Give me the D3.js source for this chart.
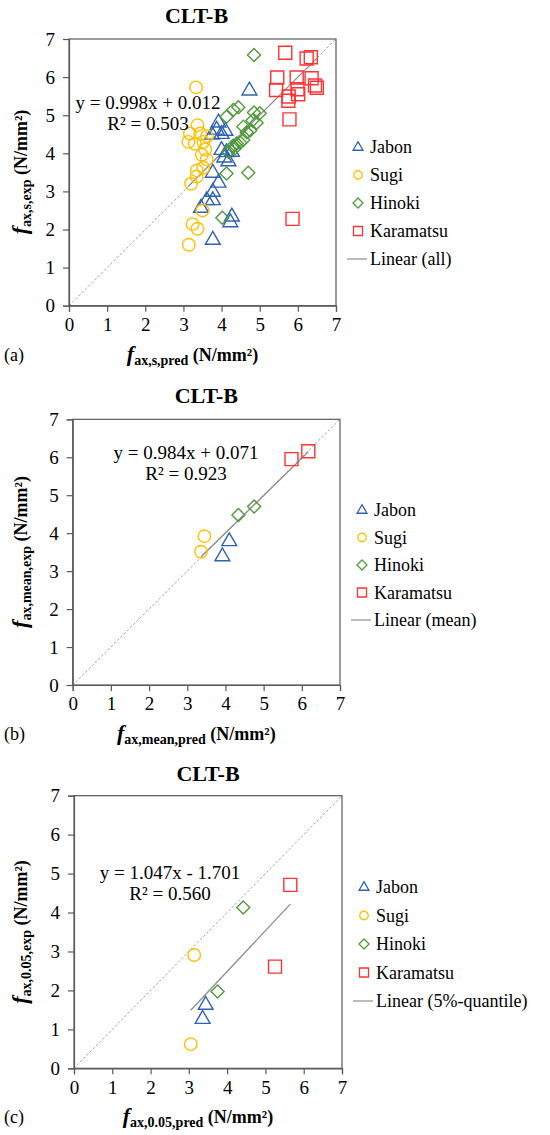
<!DOCTYPE html>
<html><head><meta charset="utf-8">
<script src="https://cdn.jsdelivr.net/npm/d3@7"></script>
<style>
body{margin:0;background:#fff}
text{font-family:"Liberation Serif","Times New Roman",serif;fill:#000}
</style></head>
<body><svg id="chart" width="550" height="1135"></svg>
<script>
const species = ["Jabon","Sugi","Hinoki","Karamatsu"];
const speciesColors = ["#2F62B3","#FFC000","#4F9A3A","#FF3333"];
const tickValues = [0,1,2,3,4,5,6,7];
const panelTitles = ["CLT-B","CLT-B","CLT-B"];
const panelTags = ["(a)","(b)","(c)"];
const xSubs = ["ax,s,pred","ax,mean,pred","ax,0.05,pred"];
const ySubs = ["ax,s,exp","ax,mean,exp","ax,0.05,exp"];
const trendNames = ["Linear (all)","Linear (mean)","Linear (5%-quantile)"];
const equations = ["y = 0.998x + 0.012","y = 0.984x + 0.071","y = 1.047x - 1.701"];
const r2Texts = ["R² = 0.503","R² = 0.923","R² = 0.560"];
const slopes = [0.998,0.984,1.047];
const intercepts = [0.012,0.071,-1.701];

// Panel (a): individual values [pred, exp]
const aJabon = [[4.73,5.66],[3.92,4.82],[3.87,4.63],[4.1,4.6],[3.75,4.5],[4.0,4.52],[4.0,4.1],[4.13,4.04],[4.27,4.05],[4.07,3.9],[4.18,3.8],[3.77,3.5],[3.92,3.24],[3.77,3.0],[3.61,2.78],[3.77,2.78],[3.46,2.58],[4.27,2.35],[4.23,2.2],[3.77,1.74]];
const aSugi = [[3.33,5.73],[3.37,4.74],[3.17,4.52],[3.44,4.52],[3.62,4.45],[3.13,4.3],[3.3,4.25],[3.52,4.3],[3.57,4.1],[3.48,3.96],[3.61,3.84],[3.52,3.62],[3.35,3.55],[3.35,3.39],[3.2,3.2],[3.5,2.5],[3.24,2.14],[3.37,2.02],[3.14,1.6]];
const aHinoki = [[4.85,6.58],[4.13,4.96],[4.31,5.14],[4.44,5.21],[4.85,5.07],[5.0,5.05],[4.92,4.8],[4.81,4.86],[4.57,4.7],[4.66,4.55],[4.75,4.6],[4.57,4.35],[4.4,4.26],[4.49,4.28],[4.35,4.13],[4.18,4.04],[4.3,4.2],[4.13,3.47],[4.7,3.49],[4.02,2.31]];
const aKaramatsu = [[5.67,6.64],[6.23,6.49],[6.34,6.52],[5.46,5.99],[5.97,5.99],[6.36,5.97],[5.43,5.66],[5.99,5.68],[6.45,5.78],[6.5,5.72],[5.76,5.49],[6.01,5.55],[5.75,5.38],[5.78,4.89],[5.86,2.28]];
// Panel (b): mean values
const bJabon = [[4.1,3.8],[3.92,3.4]];
const bSugi = [[3.45,3.92],[3.36,3.51]];
const bHinoki = [[4.34,4.48],[4.75,4.7]];
const bKaramatsu = [[5.73,5.95],[6.17,6.16]];
// Panel (c): 5%-quantile values
const cJabon = [[3.44,1.64],[3.36,1.28]];
const cSugi = [[3.14,2.91],[3.05,0.62]];
const cHinoki = [[3.75,1.97],[4.42,4.13]];
const cKaramatsu = [[5.25,2.61],[5.65,4.71]];

const panelData = [
  [aJabon,aSugi,aHinoki,aKaramatsu],
  [bJabon,bSugi,bHinoki,bKaramatsu],
  [cJabon,cSugi,cHinoki,cKaramatsu]
];

// layout (positions/sizes only)
const layout = [
  {l:69,r:336,t:39,b:305.7, titleY:23, eqX:148, eqY:109, r2Y:130, legY:147, legStep:28, ylabY:172},
  {l:72.7,r:340,t:419.3,b:685, titleY:403, eqX:186, eqY:459, r2Y:480, legY:510, legStep:27.5, ylabY:552},
  {l:74,r:342,t:795.7,b:1068.3, titleY:781, eqX:170, eqY:879, r2Y:900, legY:887, legStep:28.5, ylabY:932}
];

const svg = d3.select("#chart");

function markerPath(type, s){
  if(type===0){ const w=s*1.1, h=s*0.95; return `M0,${-h*0.62}L${w/2},${h*0.38}L${-w/2},${h*0.38}Z`; }
  if(type===1){ const r=s/2; return `M${r},0A${r},${r} 0 1,1 ${-r},0A${r},${r} 0 1,1 ${r},0Z`; }
  if(type===2){ const d=s*0.5; return `M0,${-d}L${d},0L0,${d}L${-d},0Z`; }
  const h=s/2; return `M${-h},${-h}L${h},${-h}L${h},${h}L${-h},${h}Z`;
}
const plotSizes = [13.5,12.5,13,13];
const legSizes = [9,8.5,10,9];

layout.forEach((L,pi)=>{
  const g = svg.append("g");
  const x = d3.scaleLinear().domain([0,7]).range([L.l,L.r]);
  const y = d3.scaleLinear().domain([0,7]).range([L.b,L.t]);

  g.append("text").attr("x",(L.l+L.r)/2+(pi===0?-6:0)).attr("y",L.titleY).attr("text-anchor","middle")
    .attr("font-size",22).attr("font-weight","bold").text(panelTitles[pi]);

  g.append("line").attr("x1",x(0)).attr("y1",y(0)).attr("x2",x(7)).attr("y2",y(7))
    .attr("stroke","#a0a0a0").attr("stroke-width",1).attr("stroke-dasharray","2.5,2");

  g.append("rect").attr("x",L.l).attr("y",L.t).attr("width",L.r-L.l).attr("height",L.b-L.t)
    .attr("fill","none").attr("stroke","#595959").attr("stroke-width",1.2);

  const xa = g.append("g").attr("transform",`translate(0,${L.b})`)
    .call(d3.axisBottom(x).tickValues(tickValues).tickSize(6).tickPadding(6).tickFormat(d3.format("d")));
  const ya = g.append("g").attr("transform",`translate(${L.l},0)`)
    .call(d3.axisLeft(y).tickValues(tickValues).tickSize(6).tickPadding(8).tickFormat(d3.format("d")));
  [xa,ya].forEach(a=>{
    a.attr("font-family",null).attr("font-size",null);
    a.select(".domain").attr("stroke","#595959").attr("stroke-width",1.2);
    a.selectAll(".tick line").attr("stroke","#595959").attr("stroke-width",1.2);
    a.selectAll(".tick text").attr("font-size",19).style("font-family","'Liberation Serif',serif").attr("fill","#000");
  });

  const allX = panelData[pi].flat().map(d=>d[0]);
  const x0 = d3.min(allX), x1 = d3.max(allX);
  g.append("line").attr("x1",x(x0)).attr("y1",y(slopes[pi]*x0+intercepts[pi]))
    .attr("x2",x(x1)).attr("y2",y(slopes[pi]*x1+intercepts[pi]))
    .attr("stroke","#8c8c8c").attr("stroke-width",1.3);

  panelData[pi].forEach((pts,si)=>{
    g.append("g").selectAll("path").data(pts).join("path")
      .attr("transform",d=>`translate(${x(d[0])},${y(d[1])})`)
      .attr("d",markerPath(si,plotSizes[si]))
      .attr("fill","none").attr("stroke",speciesColors[si]).attr("stroke-width",1.4);
  });

  g.append("text").attr("x",L.eqX).attr("y",L.eqY).attr("text-anchor","middle").attr("font-size",19).text(equations[pi]);
  g.append("text").attr("x",L.eqX).attr("y",L.r2Y).attr("text-anchor","middle").attr("font-size",19).text(r2Texts[pi]);

  const lx = L.r + 22;
  species.forEach((s,si)=>{
    const ly = L.legY + si*L.legStep;
    g.append("path").attr("transform",`translate(${lx},${ly})`).attr("d",markerPath(si,legSizes[si]))
      .attr("fill","none").attr("stroke",speciesColors[si]).attr("stroke-width",1.3);
    g.append("text").attr("x",lx+12).attr("y",ly+6).attr("font-size",18).text(s);
  });
  const tly = L.legY + 4*L.legStep;
  g.append("line").attr("x1",lx-11).attr("x2",lx+9).attr("y1",tly).attr("y2",tly)
    .attr("stroke","#a6a6a6").attr("stroke-width",1.5);
  g.append("text").attr("x",lx+12).attr("y",tly+6).attr("font-size",18).text(trendNames[pi]);

  const xl = g.append("text").attr("x",(L.l+L.r)/2-10).attr("y",L.b+55).attr("text-anchor","middle").attr("font-weight","bold");
  xl.append("tspan").attr("font-size",22).attr("font-style","italic").text("f");
  xl.append("tspan").attr("font-size",14).attr("dy",4).text(xSubs[pi]);
  xl.append("tspan").attr("font-size",18).attr("dy",-4).text(" (N/mm²)");
  g.append("text").attr("x",4).attr("y",L.b+55).attr("font-size",18).text(panelTags[pi]);

  const yl = g.append("text").attr("transform",`translate(27,${L.ylabY}) rotate(-90)`).attr("text-anchor","middle").attr("font-weight","bold");
  yl.append("tspan").attr("font-size",22).attr("font-style","italic").text("f");
  yl.append("tspan").attr("font-size",14).attr("dy",4).text(ySubs[pi]);
  yl.append("tspan").attr("font-size",18).attr("dy",-4).text(" (N/mm²)");
});
</script>
</body></html>
